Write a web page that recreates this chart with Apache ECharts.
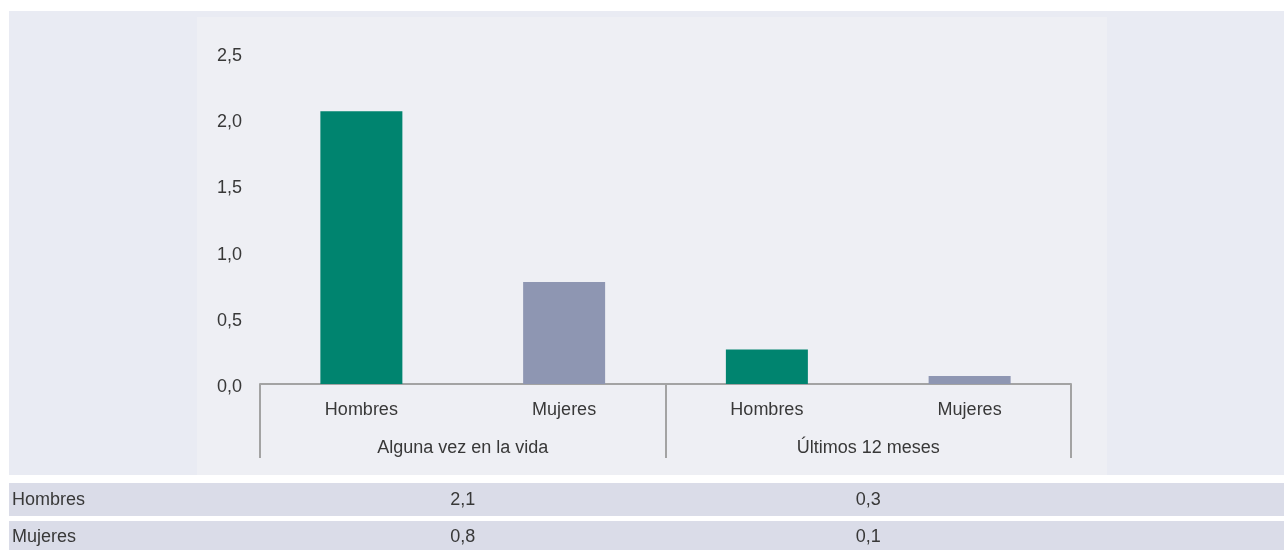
<!DOCTYPE html>
<html>
<head>
<meta charset="utf-8">
<script src="https://cdn.jsdelivr.net/npm/echarts@6/dist/echarts.min.js"></script>
<style>
  html, body { margin: 0; padding: 0; background: #fff; }
  #chart { width: 1284px; height: 550px; }
</style>
</head>
<body>
<div id="chart"></div>
<script>
// datos
const sexos = ["Hombres", "Mujeres"];
const periodos = ["Alguna vez en la vida", "Últimos 12 meses"];
const hombres = [2.06, 0.26];
const mujeres = [0.77, 0.06];
const yTicks = [0, 0.5, 1, 1.5, 2, 2.5];

const colores = { Hombres: "#00846f", Mujeres: "#8e96b2" };
const ejeColor = "#a3a3a3";
const fuente = "Liberation Sans, Arial, sans-serif";
const tam = 18;

// categorias del eje inferior: Hombres, Mujeres, Hombres, Mujeres
const categorias = [];
const barras = [];
periodos.forEach((p, i) => {
  categorias.push("Hombres", "Mujeres");
  barras.push({ value: hombres[i], itemStyle: { color: colores.Hombres } });
  barras.push({ value: mujeres[i], itemStyle: { color: colores.Mujeres } });
});

const coma = v => v.toFixed(1).replace(".", ",");

const chart = echarts.init(document.getElementById("chart"));

const option = {
  backgroundColor: "#ffffff",
  animation: false,
  grid: { left: 260, right: 213, top: 53, bottom: 166 },
  xAxis: [
    {
      type: "category",
      data: categorias,
      position: "bottom",
      axisLine: { onZero: false, lineStyle: { color: ejeColor, width: 2 } },
      axisTick: { show: false },
      axisLabel: { color: "#383838", fontSize: tam, fontFamily: fuente, margin: 17 }
    },
    {
      type: "category",
      data: periodos,
      position: "bottom",
      axisLine: { show: false, onZero: false },
      axisTick: {
        show: true,
        length: 74,
        interval: 0,
        lineStyle: { color: ejeColor, width: 2 }
      },
      axisLabel: { color: "#383838", fontSize: tam, fontFamily: fuente, margin: 55 }
    }
  ],
  yAxis: {
    type: "value",
    min: yTicks[0],
    max: yTicks[yTicks.length - 1],
    interval: 0.5,
    axisLine: { show: false },
    axisTick: { show: false },
    splitLine: { show: false },
    axisLabel: {
      color: "#383838",
      fontSize: tam,
      fontFamily: fuente,
      margin: 18,
      formatter: v => "{n|" + coma(v) + "}",
      rich: {
        n: { color: "#383838", fontSize: tam, fontFamily: fuente, padding: [6, 0, 0, 0] }
      }
    }
  },
  series: [
    {
      type: "bar",
      xAxisIndex: 0,
      barWidth: 82,
      data: barras
    }
  ]
};

chart.setOption(option);

// fondo y tabla inferior
const graficos = [
  { type: "rect", z: -10, shape: { x: 9, y: 11, width: 1275, height: 464 }, style: { fill: "#e9ebf3" } },
  { type: "rect", z: -9, shape: { x: 197, y: 17, width: 910, height: 458 }, style: { fill: "#eeeff4" } },
  { type: "rect", z: -9, shape: { x: 9, y: 483, width: 1275, height: 33 }, style: { fill: "#dadce8" } },
  { type: "rect", z: -9, shape: { x: 9, y: 521, width: 1275, height: 29 }, style: { fill: "#dadce8" } }
];
const filas = [
  { nombre: sexos[0], valores: hombres, y: 500 },
  { nombre: sexos[1], valores: mujeres, y: 537.5 }
];
filas.forEach(f => {
  graficos.push({
    type: "text", z: 5, x: 12, y: f.y,
    style: { text: f.nombre, fill: "#383838", font: tam + "px " + fuente, textVerticalAlign: "middle" }
  });
  f.valores.forEach((v, i) => {
    const px = chart.convertToPixel({ xAxisIndex: 1 }, periodos[i]);
    graficos.push({
      type: "text", z: 5, x: px, y: f.y,
      style: { text: coma(v), fill: "#383838", font: tam + "px " + fuente, textAlign: "center", textVerticalAlign: "middle" }
    });
  });
});
chart.setOption({ graphic: graficos });
</script>
</body>
</html>
